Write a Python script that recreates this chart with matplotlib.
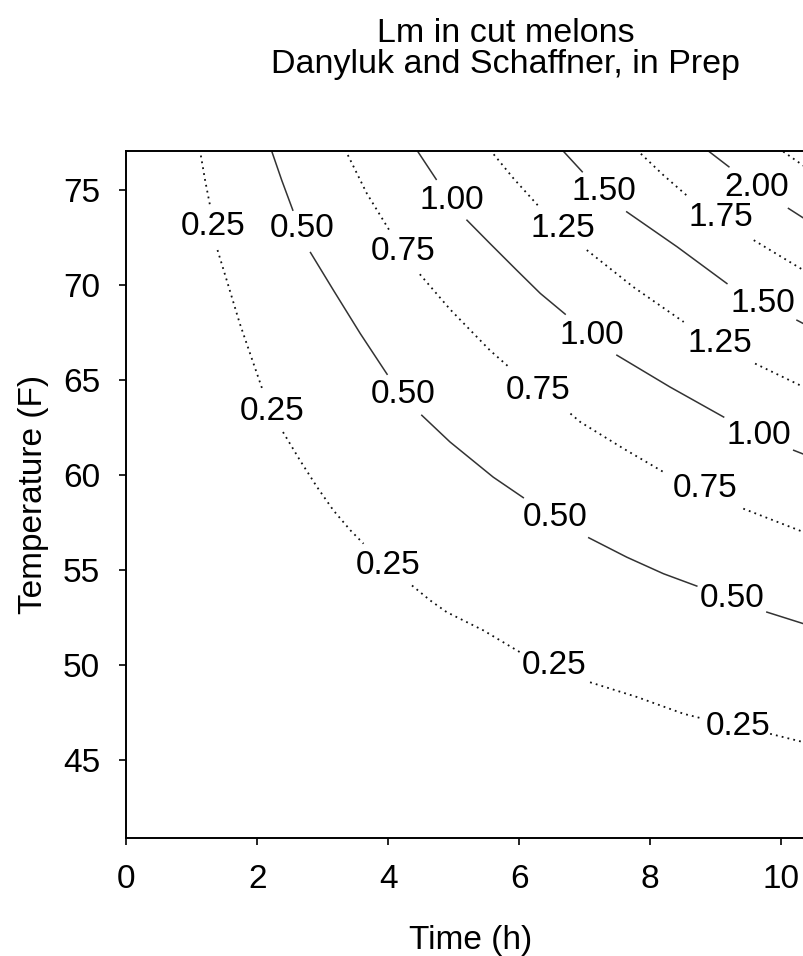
import matplotlib
matplotlib.use("Agg")
import matplotlib.pyplot as plt

plt.rcParams['font.family'] = ['Liberation Sans', 'DejaVu Sans']

# contour lines: each level is a list of visible
# pieces (the line is broken where R put its label), points are (time h, temp F)
c025 = [
    [(1.12, 77.1), (1.20, 75.50), (1.28, 74.09)],
    [(1.39, 71.82), (1.53, 70.24), (1.73, 67.96), (1.94, 65.85), (2.08, 64.45)],
    [(2.39, 62.25), (2.65, 60.76), (2.91, 59.36), (3.16, 58.13), (3.42, 57.08), (3.62, 56.38)],
    [(4.36, 54.18), (4.64, 53.39), (4.89, 52.78), (5.45, 51.82), (6.01, 50.67)],
    [(7.08, 49.09), (7.80, 48.31), (8.51, 47.43), (8.81, 47.17)],
    [(9.83, 46.38), (10.34, 45.94), (10.50, 45.79)],
]
c025_labels = [(1.33, 73.04), (2.23, 63.35), (3.99, 55.24), (6.53, 49.97), (9.34, 46.76)]

c050 = [
    [(2.21, 77.1), (2.37, 75.50), (2.54, 73.92)],
    [(2.81, 71.69), (3.16, 69.71), (3.57, 67.43), (3.98, 65.29)],
    [(4.51, 63.13), (4.94, 61.73), (5.60, 59.88), (6.06, 58.80)],
    [(7.06, 56.69), (7.64, 55.67), (8.20, 54.80), (8.71, 54.15)],
    [(9.78, 52.78), (10.34, 52.17), (10.50, 52.00)],
]
c050_labels = [(2.68, 72.94), (4.22, 64.20), (6.54, 57.78), (9.25, 53.48)]

c075 = [
    [(3.34, 77.1), (3.67, 74.80), (4.02, 72.83)],
    [(4.48, 70.55), (4.94, 68.71), (5.25, 67.61), (5.55, 66.55), (5.85, 65.64)],
    [(6.78, 63.22), (6.93, 62.78), (7.59, 61.38), (8.20, 60.15)],
    [(9.42, 58.22), (10.34, 56.99), (10.50, 56.79)],
]
c075_labels = [(4.23, 71.73), (6.29, 64.45), (8.83, 59.27)]

c100 = [
    [(4.43, 77.1), (4.73, 75.54)],
    [(5.20, 73.39), (5.55, 72.17), (5.96, 70.76), (6.32, 69.54), (6.70, 68.45)],
    [(7.49, 66.29), (8.30, 64.62), (9.12, 63.04)],
    [(10.19, 61.29), (10.50, 60.87)],
]
c100_labels = [(4.97, 74.45), (7.10, 67.34), (9.66, 62.08)]

c125 = [
    [(5.55, 77.1), (5.91, 75.59), (6.28, 74.18)],
    [(7.03, 71.82), (7.74, 69.88), (8.51, 68.04)],
    [(9.60, 65.85), (10.34, 64.62), (10.50, 64.36)],
]
c125_labels = [(6.67, 72.96), (9.07, 66.91)]

c150 = [
    [(6.65, 77.1), (6.96, 75.94)],
    [(7.64, 73.83), (8.41, 71.99), (9.17, 70.06)],
    [(10.24, 68.13), (10.50, 67.66)],
]
c150_labels = [(7.29, 74.88), (9.72, 69.01)]

c175 = [
    [(7.79, 77.1), (8.20, 75.76), (8.58, 74.62)],
    [(9.58, 72.34), (10.34, 70.76), (10.50, 70.43)],
]
c175_labels = [(9.08, 73.53)]

c200 = [
    [(8.86, 77.1), (9.20, 76.20)],
    [(10.11, 74.01), (10.50, 73.15)],
]
c200_labels = [(9.63, 75.11)]

c225 = [
    [(10.03, 77.0), (10.50, 75.87)],
]
c225_labels = []

levels = [
    ('0.25', c025, c025_labels, 'dotted'),
    ('0.50', c050, c050_labels, 'solid'),
    ('0.75', c075, c075_labels, 'dotted'),
    ('1.00', c100, c100_labels, 'solid'),
    ('1.25', c125, c125_labels, 'dotted'),
    ('1.50', c150, c150_labels, 'solid'),
    ('1.75', c175, c175_labels, 'dotted'),
    ('2.00', c200, c200_labels, 'solid'),
    ('2.25', c225, c225_labels, 'dotted'),
]

x_ticks = [0, 2, 4, 6, 8, 10]
y_ticks = [45, 50, 55, 60, 65, 70, 75]


def draw_contours():
    fig = plt.figure(figsize=(8.04, 9.56), dpi=100)
    # plot region runs a little past the right edge of the image, as in the original
    ax = fig.add_axes([126.5 / 804, 1 - 838 / 956, (814 - 126.5) / 804, (838 - 151) / 956])

    for text, pieces, labels, style in levels:
        for piece in pieces:
            t = [p[0] for p in piece]
            temp = [p[1] for p in piece]
            if style == 'dotted':
                ax.plot(t, temp, color='#111111', lw=1.3, linestyle=(0, (1, 2.3)))
            else:
                ax.plot(t, temp, color='#333333', lw=1.1)
        for t, temp in labels:
            ax.text(t, temp, text, ha='center', va='center', fontsize=24, color='black')

    ax.set_xlim(0, 10.5)
    ax.set_ylim(40.9, 77.03)
    ax.set_xticks(x_ticks)
    ax.set_yticks(y_ticks)
    ax.tick_params(direction='out', length=5, width=1.2, labelsize=24)
    ax.tick_params(axis='x', pad=14)
    ax.tick_params(axis='y', pad=14)
    for side in ax.spines.values():
        side.set_linewidth(1.4)

    ax.set_xlabel('Time (h)', fontsize=24, labelpad=21)
    ax.set_ylabel('Temperature (F)', fontsize=24, labelpad=10)

    fig.text(506 / 804, 1 - 33 / 956, 'Lm in cut melons', ha='center', va='center', fontsize=24.5)
    fig.text(506 / 804, 1 - 64 / 956, 'Danyluk and Schaffner, in Prep', ha='center', va='center', fontsize=24.5)

    fig.savefig('out.png', dpi=100)


if __name__ == "__main__":
    draw_contours()
